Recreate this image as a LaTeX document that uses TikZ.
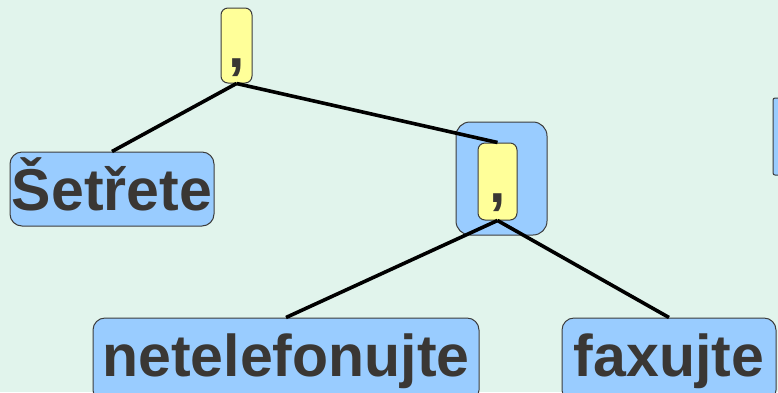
\documentclass[tikz,border=0pt]{standalone}
\usepackage{fontspec}
\setmainfont{Liberation Sans}
\definecolor{bg}{HTML}{E1F4EC}
\definecolor{boxblue}{HTML}{99CCFF}
\definecolor{boxyellow}{HTML}{FFFF99}
\definecolor{ink}{HTML}{3A3734}
\definecolor{edge}{HTML}{3C3C3C}
\begin{document}
\begin{tikzpicture}[x=1pt,y=-1pt,
  bigfont/.style={font=\bfseries\fontsize{59}{59}\selectfont},
  word/.style={draw=edge, line width=1pt, fill=boxblue, rounded corners=12pt,
    inner sep=0pt, text=ink, bigfont, anchor=base},
  commabox/.style={draw=edge, line width=1pt, fill=boxyellow, rounded corners=7pt,
    inner sep=0pt, text=ink, bigfont, anchor=base},
  groupbox/.style={draw=edge, line width=1pt, fill=boxblue, rounded corners=14pt,
    inner sep=0pt},
  link/.style={line width=3.6pt, black}]
\useasboundingbox (0,0) rectangle (778,392);
\clip (0,0) rectangle (778,392);
\fill[bg] (0,0) rectangle (778,392);

% partial box at right edge
\node[groupbox, rounded corners=2pt, minimum width=24pt, minimum height=77pt] (r) at (785,136.5) {};

% top comma
\node[commabox, minimum width=31pt, text height=59pt, text depth=16pt] (c1) at (236.5,67) {,};

% grouped comma
\node[groupbox, minimum width=91pt, minimum height=113pt] (g) at (501.5,178.5) {};
\node[commabox, minimum width=39pt, text height=59pt, text depth=18pt] (c2) at (497.5,202) {,};

% words
\node[word, minimum width=204pt, text height=58pt, text depth=16pt] (s) at (112,210) {Šetřete};
\node[word, minimum width=386pt, text height=58pt, text depth=26pt] (n) at (286,376) {netelefonujte};
\node[word, minimum width=214pt, text height=58pt, text depth=26pt] (f) at (669,376) {faxujte};

% connectors
\draw[link] (c1.south) -- (s.north);
\draw[link] (c1.south) -- (c2.north);
\draw[link] (c2.south) -- (n.north);
\draw[link] (c2.south) -- (f.north);
\end{tikzpicture}
\end{document}
